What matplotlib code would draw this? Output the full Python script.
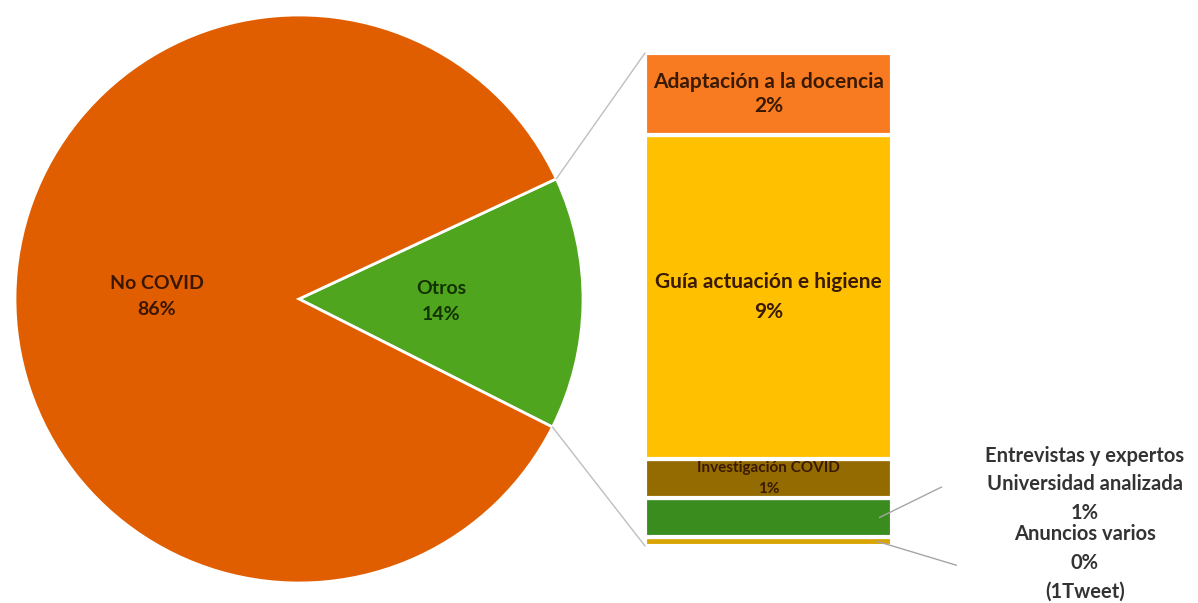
import matplotlib
matplotlib.use("Agg")
import matplotlib.pyplot as plt
from matplotlib.patches import ConnectionPatch
import numpy as np

plt.rcParams["font.family"] = ["Lato", "DejaVu Sans"]

# Main split of tweets (%)
pie_labels = ["Otros", "No COVID"]
pie_values = [14.4, 85.6]
pie_colors = ["#4FA51E", "#E05E00"]
pie_text_colors = ["#123300", "#3A1600"]

# Breakdown of the "Otros" slice (%), bottom to top
bar_labels = ["Anuncios varios", "Entrevistas y expertos\nUniversidad analizada",
              "Investigación COVID", "Guía actuación e higiene",
              "Adaptación a la docencia"]
bar_values = [0.27, 1.13, 1.15, 9.45, 2.4]
bar_colors = ["#D9A300", "#3A8C1E", "#946B00", "#FFC000", "#F87B22"]

W, H = 1198, 603
fig = plt.figure(figsize=(W / 100, H / 100), dpi=100)

# ---- pie ----
cx, cy, r = 299, 299, 284
ax_pie = fig.add_axes([(cx - r) / W, (H - cy - r) / H, 2 * r / W, 2 * r / H])
start = -26.8
wedges, _ = ax_pie.pie(pie_values, colors=pie_colors, startangle=start,
                       counterclock=True,
                       wedgeprops=dict(edgecolor="white", linewidth=2))
ax_pie.set_xlim(-1, 1)
ax_pie.set_ylim(-1, 1)
ax_pie.set_aspect("equal")
ax_pie.axis("off")

for w, lab, val, tc in zip(wedges, pie_labels, pie_values, pie_text_colors):
    mid = np.deg2rad((w.theta1 + w.theta2) / 2)
    ax_pie.text(0.5 * np.cos(mid), 0.5 * np.sin(mid), f"{lab}\n{val:.0f}%",
                ha="center", va="center", fontsize=14, fontweight="bold",
                color=tc, linespacing=1.65)

# ---- stacked bar ----
bx0, bx1, by0, by1 = 645, 892, 53, 546
ax_bar = fig.add_axes([bx0 / W, (H - by1) / H, (bx1 - bx0) / W, (by1 - by0) / H])
total = sum(bar_values)
bottom = 0.0
mids = []
for v, c in zip(bar_values, bar_colors):
    ax_bar.bar(0, v, bottom=bottom, width=1.0, color=c, edgecolor="white",
               linewidth=3)
    mids.append(bottom + v / 2)
    bottom += v
ax_bar.set_xlim(-0.5, 0.5)
ax_bar.set_ylim(0, total)
ax_bar.axis("off")

inside_style = dict(ha="center", va="center", fontweight="bold",
                    color="#3A1A00")
ax_bar.text(0, mids[4], f"{bar_labels[4]}\n{bar_values[4]:.0f}%", fontsize=15,
            linespacing=1.3, **inside_style)
ax_bar.text(0, mids[3], f"{bar_labels[3]}\n{bar_values[3]:.0f}%", fontsize=15,
            linespacing=1.6, **inside_style)
ax_bar.text(0, mids[2], f"{bar_labels[2]}\n{bar_values[2]:.0f}%", fontsize=11,
            linespacing=1.7, **inside_style)

# outside labels with leader lines
outside_style = dict(ha="center", va="center", fontsize=14.5, fontweight="bold",
                     color="#333333", linespacing=1.55, clip_on=False)
leader = dict(color="#A6A6A6", lw=1, clip_on=False)

ax_bar.plot([0.45, 0.70], [mids[1], 1.72], **leader)
ax_bar.text(1.28, 1.80, f"{bar_labels[1]}\n{bar_values[1]:.0f}%", **outside_style)

ax_bar.plot([0.44, 0.76], [mids[0], -0.56], **leader)
ax_bar.text(1.28, -0.50, f"{bar_labels[0]}\n{bar_values[0]:.0f}%\n(1Tweet)",
            **outside_style)

# ---- connectors between the Otros slice and the bar ----
w0 = wedges[0]
for ang, yb in [(w0.theta2, total), (w0.theta1, 0)]:
    a = np.deg2rad(ang)
    con = ConnectionPatch(xyA=(np.cos(a), np.sin(a)), coordsA=ax_pie.transData,
                          xyB=(-0.5, yb), coordsB=ax_bar.transData,
                          color="#BFBFBF", lw=1)
    fig.add_artist(con)

fig.savefig("out.png", dpi=100, facecolor="white")
